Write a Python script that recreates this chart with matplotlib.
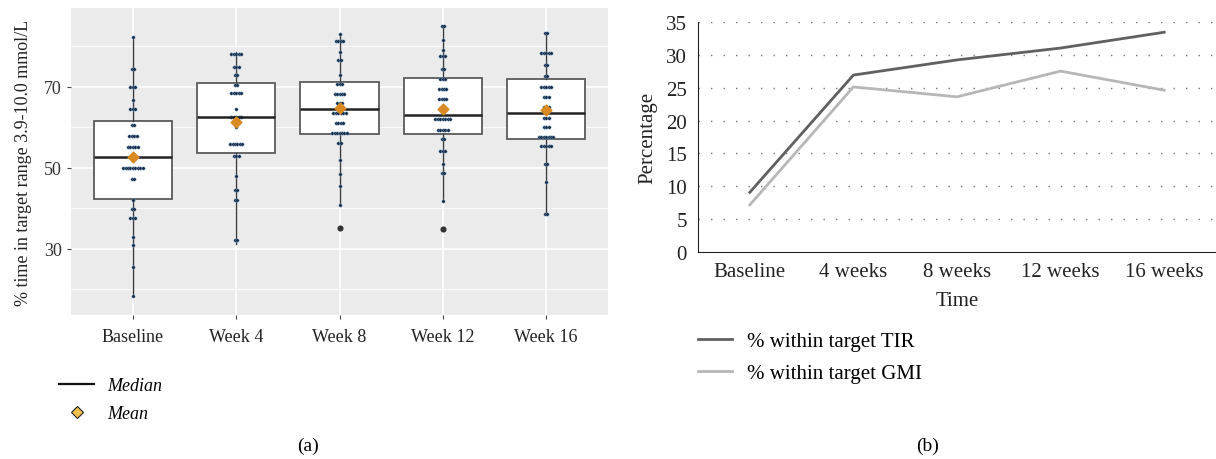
import matplotlib
matplotlib.use('Agg')
import matplotlib.pyplot as plt
from matplotlib.lines import Line2D
import numpy as np

plt.rcParams['font.family'] = ['Liberation Serif', 'DejaVu Serif']

# ---- panel (a): box plots of % time in range ----
groups = ['Baseline', 'Week 4', 'Week 8', 'Week 12', 'Week 16']
box_q1 = [42.3, 53.7, 58.4, 58.4, 57.2]
box_med = [52.7, 62.6, 64.6, 63.1, 63.6]
box_q3 = [61.6, 71.0, 71.2, 72.2, 72.0]
box_lo = [18.4, 31.2, 40.9, 41.9, 38.6]
box_hi = [82.3, 78.6, 83.1, 85.1, 83.3]
box_mean = [52.6, 61.4, 64.8, 64.6, 64.3]
box_fliers = [[], [], [35.2], [35.0], []]

# individual observations: value levels and how many patients sit on each
dot_values = [
    [82.3, 74.4, 70.0, 66.8, 64.6, 60.6, 57.9, 55.2, 52.7, 50.0, 47.3, 42.1, 39.9, 37.7, 33.0, 31.0, 25.6, 18.4],
    [78.1, 74.9, 73.0, 70.5, 68.5, 64.6, 62.6, 60.0, 55.9, 53.0, 48.0, 44.6, 42.1, 32.2],
    [83.1, 81.4, 78.6, 76.7, 73.0, 70.7, 68.3, 66.0, 63.6, 61.1, 58.6, 56.2, 52.0, 48.5, 45.6, 40.9],
    [85.1, 81.6, 79.1, 77.7, 74.4, 72.0, 69.5, 67.0, 64.6, 62.1, 59.4, 57.2, 54.2, 51.0, 48.8, 41.9],
    [83.3, 78.4, 75.4, 72.7, 70.0, 67.5, 65.0, 62.3, 60.0, 57.7, 55.5, 51.0, 46.5, 38.6],
]
dot_counts = [
    [1, 2, 3, 1, 3, 2, 4, 5, 2, 9, 2, 1, 2, 3, 1, 1, 1, 1],
    [5, 3, 2, 2, 5, 1, 5, 1, 6, 3, 1, 2, 2, 2],
    [1, 4, 1, 2, 1, 3, 5, 3, 6, 4, 7, 2, 1, 1, 1, 1],
    [2, 1, 1, 3, 2, 3, 4, 4, 2, 7, 5, 2, 3, 1, 2, 1],
    [2, 5, 2, 2, 5, 3, 3, 3, 3, 7, 5, 2, 1, 2],
]

# ---- panel (b): % of patients within target ----
time_labels = ['Baseline', '4 weeks', '8 weeks', '12 weeks', '16 weeks']
tir_pct = [9.1, 26.9, 29.2, 31.0, 33.4]
gmi_pct = [7.2, 25.1, 23.6, 27.5, 24.6]

fig = plt.figure(figsize=(12.16, 4.6), dpi=100)

# left panel
ax1 = fig.add_axes([71/1216, 1 - 316/460, (608-71)/1216, (316-9)/460])
ax1.set_facecolor('#ebebeb')
for s in ax1.spines.values():
    s.set_visible(False)

stats = []
for i in range(len(groups)):
    stats.append({'med': box_med[i], 'q1': box_q1[i], 'q3': box_q3[i],
                  'whislo': box_lo[i], 'whishi': box_hi[i],
                  'mean': box_mean[i], 'fliers': box_fliers[i]})
ax1.bxp(stats, positions=range(len(groups)), widths=0.76, patch_artist=True,
        showcaps=False, showmeans=False, manage_ticks=False, zorder=2,
        boxprops=dict(facecolor='white', edgecolor='#5a5a5a', lw=1.3),
        whiskerprops=dict(color='#3a3a3a', lw=1.0),
        medianprops=dict(color='#222222', lw=1.8, zorder=4),
        flierprops=dict(marker='o', markerfacecolor='#333333', markeredgecolor='#333333', markersize=3.4))

dx = 0.024
for i in range(len(groups)):
    xs, ys = [], []
    for v, c in zip(dot_values[i], dot_counts[i]):
        offs = (np.arange(c) - (c - 1) / 2) * dx
        xs.extend(i + offs)
        ys.extend([v] * c)
    ax1.scatter(xs, ys, s=6, color='#1a3050', edgecolors='#8fb6cf', linewidths=0.25, zorder=3)
ax1.scatter(range(len(groups)), box_mean, marker='D', s=30, color='#d98a22',
            edgecolors='#d98a22', zorder=5)

ax1.set_xlim(-0.6, 4.6)
ax1.set_ylim(13.7, 89.5)
ax1.set_yticks([30, 50, 70])
ax1.set_yticks([20, 40, 60, 80], minor=True)
ax1.set_xticks(range(len(groups)))
ax1.set_xticklabels(groups, fontsize=13)
ax1.tick_params(axis='y', labelsize=13, length=3, color='#444444', labelcolor='#333333')
ax1.tick_params(axis='y', which='minor', length=0)
ax1.tick_params(axis='x', length=3, color='#444444', labelcolor='#222222', pad=6)
ax1.grid(True, which='major', color='white', lw=1.2)
ax1.grid(True, which='minor', axis='y', color='white', lw=0.6)
ax1.set_axisbelow(True)
ax1.set_ylabel('% time in target range 3.9-10.0 mmol/L', fontsize=13, color='#222222', labelpad=9)

h_med = Line2D([], [], color='#111111', lw=1.6)
h_mean = Line2D([], [], marker='D', ls='none', markersize=6, markerfacecolor='#f2c14e',
                markeredgecolor='#222222', markeredgewidth=0.8)
fig.legend([h_med, h_mean], ['Median', 'Mean'], loc='upper left',
           bbox_to_anchor=(59/1216, 1 - 378/460), frameon=False, borderpad=0,
           borderaxespad=0, handlelength=1.94, handletextpad=0.72, labelspacing=0.62,
           prop={'style': 'italic', 'size': 13})
fig.text(308/1216, 1 - 446/460, '(a)', ha='center', va='center', fontsize=14)

# right panel
ax2 = fig.add_axes([698/1216, 1 - 253.3/460, (1216-698)/1216, (253.3-22.7)/460])
ax2.set_xlim(-0.5, 4.5)
ax2.set_ylim(0, 35)
ax2.spines['top'].set_visible(False)
ax2.spines['right'].set_visible(False)
ax2.spines['left'].set_color('#222222')
ax2.spines['bottom'].set_color('#222222')
ax2.set_yticks(range(0, 36, 5))
ax2.set_xticks(range(len(time_labels)))
ax2.set_xticklabels(time_labels)
ax2.tick_params(length=0, labelsize=15, colors='#222222')
ax2.tick_params(axis='x', pad=7)
ax2.tick_params(axis='y', pad=8)
for yv in range(5, 36, 5):
    ax2.axhline(yv, color='#777777', lw=1.0, ls=(0, (1, 8)), zorder=0)
x = np.arange(len(time_labels))
ax2.plot(x, tir_pct, color='#606060', lw=2.0, label='% within target TIR')
ax2.plot(x, gmi_pct, color='#b7b7b7', lw=2.0, label='% within target GMI')
ax2.set_xlabel('Time', fontsize=15, color='#222222', labelpad=7)
ax2.set_ylabel('Percentage', fontsize=15, color='#222222', labelpad=6)
fig.legend(*ax2.get_legend_handles_labels(), loc='upper left',
           bbox_to_anchor=(698/1216, 1 - 332.5/460), frameon=False, borderpad=0,
           borderaxespad=0, handlelength=1.63, handletextpad=0.72, labelspacing=0.61,
           prop={'size': 15})
fig.text(928/1216, 1 - 446/460, '(b)', ha='center', va='center', fontsize=14)

fig.savefig('out.png', dpi=100)
